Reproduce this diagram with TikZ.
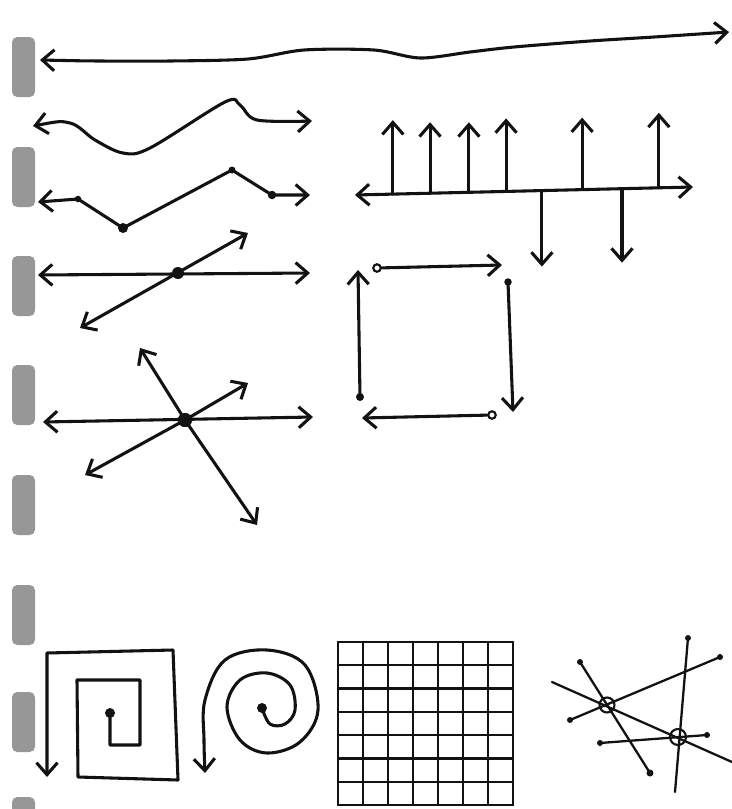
\documentclass[tikz,border=0pt]{standalone}
\usetikzlibrary{arrows.meta, calc}
\definecolor{TabGray}{HTML}{979797}
\definecolor{Ink}{HTML}{121212}

\begin{document}
\begin{tikzpicture}[x=0.02cm, y=-0.02cm,
        >={Straight Barb[length=2.4mm, width=4.2mm]},
        ink/.style={draw=Ink, line width=1.75pt, line cap=round, line join=round},
        thin ink/.style={ink, line width=1.3pt},
        arrow/.style={ink, ->},
        twoway/.style={ink, <->},
        dot/.style={circle, fill=Ink, inner sep=0pt, minimum size=#1},
        dot/.default=0.16cm,
        ring/.style={circle, draw=Ink, fill=white, line width=1.2pt, inner sep=0pt, minimum size=#1},
        ring/.default=0.15cm,
        tab/.style={fill=TabGray, rounded corners=3pt}]

    \useasboundingbox (0,0) rectangle (732,809);

    % binder tabs
    \foreach \ty in {37,147,256,365,475,585,692,797}
        \fill[tab] (12,\ty) rectangle (35,\ty+60);

    % long wavy line
    \coordinate (topL) at (40,60);
    \coordinate (topR) at (729,32);
    \draw[twoway] plot[smooth, tension=0.5] coordinates {(topL) (100,61) (170,61) (248,59) (304,50) (374,50) (420,58) (470,52) (514,47) (590,41) (654,37) (topR)};

    % smooth wave
    \coordinate (waveL) at (33,126);
    \coordinate (waveR) at (312,121);
    \draw[twoway] plot[smooth, tension=0.55] coordinates {(waveL) (70,123) (95,140) (123,153) (150,148) (225,102) (240,105) (257,120) (waveR)};

    % polyline with dots
    \coordinate (polyL) at (38,202);
    \coordinate (polyR) at (310,195);
    \node[dot=0.13cm] (p1) at (78,199) {};
    \node[dot=0.2cm]  (p2) at (123,228) {};
    \node[dot=0.14cm] (p3) at (232,170) {};
    \node[dot=0.17cm] (p4) at (272,195) {};
    \draw[twoway] (polyL) -- (p1.center) -- (p2.center) -- (p3.center) -- (p4.center) -- (polyR);

    % impulses on an axis
    \coordinate (axL) at (355,195);
    \coordinate (axR) at (693,187);
    \draw[twoway] (axL) -- (axR);
    \foreach \f/\h in {0.112/74, 0.222/71, 0.337/70, 0.447/73, 0.672/72, 0.899/75}
        \draw[arrow] ($(axL)!\f!(axR)$) -- ++(0,-\h);
    \foreach \f/\h in {0.553/76, 0.790/74}
        \draw[arrow] ($(axL)!\f!(axR)$) -- ++(0,\h);

    % two crossing lines
    \coordinate (crossL) at (38,275);
    \coordinate (crossR) at (310,273);
    \coordinate (diagA) at (80,328);
    \coordinate (diagB) at (248,233);
    \draw[twoway] (crossL) -- (crossR);
    \draw[twoway] (diagA) -- (diagB);
    \node[dot=0.24cm] (cross) at (178,273) {};

    % star of arrows
    \coordinate (starL) at (43,422);
    \coordinate (starR) at (313,417);
    \draw[twoway] (starL) -- (starR);
    \node[dot=0.28cm] (hub) at (185,420) {};
    \foreach \sx/\sy in {140/348, 248/383, 85/475, 257/525}
        \draw[arrow] (hub.center) -- (\sx,\sy);
    \node[dot=0.28cm] at (hub) {};

    % loop of four arrows
    \node[ring] (q1) at (377,268) {};
    \node[dot=0.15cm] (q2) at (508,282) {};
    \node[ring] (q3) at (492,415) {};
    \node[dot=0.16cm] (q4) at (360,397) {};
    \coordinate (q1e) at (502,265);
    \coordinate (q2e) at (513,412);
    \coordinate (q3e) at (362,418);
    \coordinate (q4e) at (358,270);
    \draw[arrow] (q1) -- (q1e);
    \draw[arrow] (q2.center) -- (q2e);
    \draw[arrow] (q3) -- (q3e);
    \draw[arrow] (q4.center) -- (q4e);

    % square spiral
    \node[dot=0.2cm] (sqc) at (110,713) {};
    \coordinate (sqe) at (47,777);
    \draw[arrow] (sqc.center) -- (110,745) -- (140,745) -- (140,680) -- (77,680) -- (78,777) -- (178,780) -- (173,650) -- (47,653) -- (sqe);

    % round spiral
    \node[dot=0.2cm] (spc) at (262,708) {};
    \coordinate (spe) at (205,773);
    \draw[arrow] plot[smooth, tension=0.6] coordinates {(spc) (270,724) (285,724) (295,710) (290,685) (267,673) (240,680) (227,707) (240,740) (267,753) (300,742) (318,710) (305,665) (267,650) (225,660) (205,700) (204,740) (spe)};

    % grid
    \foreach \i in {0,...,7} {
        \draw[thin ink] (338+25*\i,642) -- (338+25*\i,805);
        \draw[thin ink] (338,642+23.29*\i) -- (513,642+23.29*\i);
    }

    % network of lines through two rings
    \coordinate (n1a) at (552,682);
    \coordinate (n1b) at (732,762);
    \coordinate (n4b) at (675,792);
    \node[dot=0.12cm] (n2a) at (570,720) {};
    \node[dot=0.12cm] (n2b) at (720,657) {};
    \node[dot=0.12cm] (n3a) at (580,662) {};
    \node[dot=0.14cm] (n3b) at (650,773) {};
    \node[dot=0.12cm] (n4a) at (688,638) {};
    \node[dot=0.12cm] (n5a) at (600,743) {};
    \node[dot=0.12cm] (n5b) at (707,735) {};
    \draw[thin ink] (n1a) -- (n1b);
    \draw[thin ink] (n2a.center) -- (n2b.center);
    \draw[thin ink] (n3a.center) -- (n3b.center);
    \draw[thin ink] (n4a.center) -- (n4b);
    \draw[thin ink] (n5a.center) -- (n5b.center);
    \node[circle, draw=Ink, line width=1.2pt, minimum size=0.3cm, inner sep=0pt] (hubA) at (607,705) {};
    \node[circle, draw=Ink, line width=1.2pt, minimum size=0.32cm, inner sep=0pt] (hubB) at (678,737) {};
\end{tikzpicture}
\end{document}
